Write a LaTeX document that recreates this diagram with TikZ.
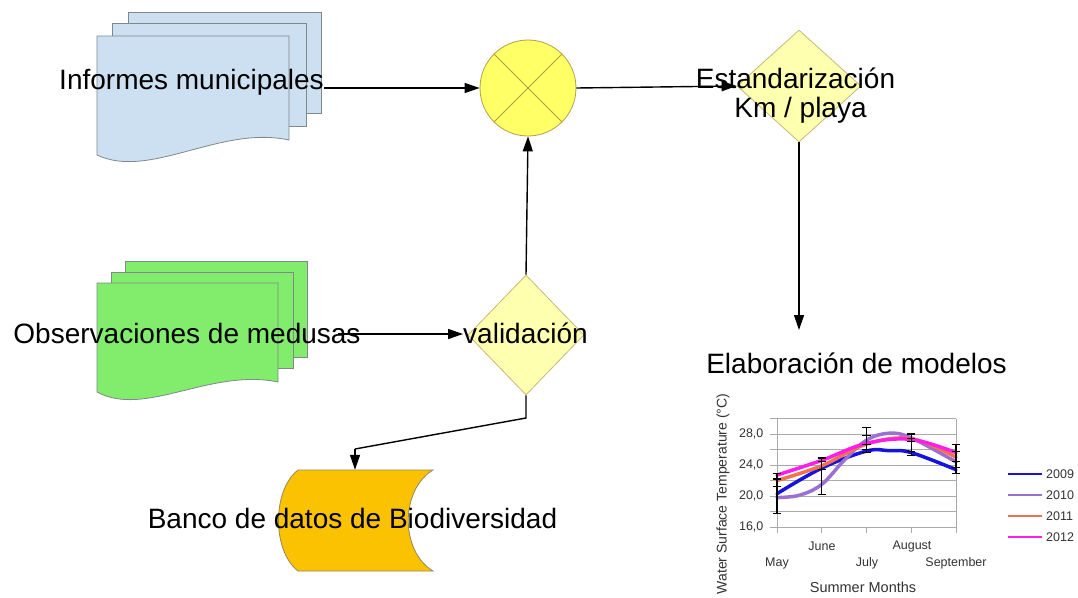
\documentclass[tikz,border=0pt]{standalone}
\usepackage{fontspec}
\setmainfont{Liberation Sans}
\usetikzlibrary{shapes.geometric,arrows.meta}
\definecolor{docblue}{RGB}{204,224,242}
\definecolor{docgreen}{RGB}{130,236,108}
\definecolor{docedge}{RGB}{128,136,140}
\definecolor{mixfill}{RGB}{255,255,102}
\definecolor{mixedge}{RGB}{176,160,72}
\definecolor{diafill}{RGB}{255,255,176}
\definecolor{diaedge}{RGB}{200,184,120}
\definecolor{bancofill}{RGB}{250,194,0}
\definecolor{bancoedge}{RGB}{150,136,90}
\definecolor{gridc}{RGB}{170,170,170}
\definecolor{charttext}{RGB}{50,50,50}
\definecolor{c2009}{RGB}{20,20,220}
\definecolor{c2010}{RGB}{155,112,210}
\definecolor{c2011}{RGB}{245,112,80}
\definecolor{c2012}{RGB}{255,30,230}
\tikzset{
  big/.style={font=\fontsize{28}{30}\selectfont, inner sep=0pt, text=black},
  sheet/.style={draw=docedge, line width=0.8pt},
  conn/.style={draw=black, line width=1.4pt, -{Triangle[length=15pt,width=10pt]}},
  plain/.style={draw=black, line width=1.4pt},
  gridline/.style={draw=gridc, line width=0.8pt},
  small/.style={font=\fontsize{12.5}{14}\selectfont, text=charttext, inner sep=0pt},
  curve/.style={line width=3.5pt, line cap=round},
  errbar/.style={draw=black, line width=1.1pt},
}
\begin{document}
\begin{tikzpicture}[x=1pt,y=-1pt]
\useasboundingbox (0,0) rectangle (1078,597);

% ---- Informes municipales (document stack)
\draw[sheet, fill=docblue] (128,12) rectangle (321,113);
\draw[sheet, fill=docblue] (112,23) rectangle (306,126);
\draw[sheet, fill=docblue] (97,36) -- (289,36) -- (289,140)
   .. controls (220,125) and (150,180) .. (97,155) -- cycle;
\node[big, anchor=base] (inf) at (191.5,89) {Informes municipales};

% ---- Observaciones de medusas (document stack)
\draw[sheet, fill=docgreen] (125,261) rectangle (307,357);
\draw[sheet, fill=docgreen] (111,272) rectangle (293,368);
\draw[sheet, fill=docgreen] (97,283) -- (278,283) -- (278,382)
   .. controls (210,368) and (145,418) .. (97,392) -- cycle;

% ---- circle (mix)
\node[circle, draw=mixedge, fill=mixfill, line width=0.8pt, minimum size=96pt, inner sep=0pt] (mix) at (528,88) {};
\draw[mixedge, line width=0.8pt] (mix.north west) -- (mix.south east);
\draw[mixedge, line width=0.8pt] (mix.north east) -- (mix.south west);

% ---- Estandarizacion diamond
\node[diamond, draw=diaedge, fill=diafill, line width=0.8pt, minimum width=124pt, minimum height=112pt, inner sep=0pt] (est) at (799,86) {};
\node[big, anchor=base] (esttxt1) at (795.5,88) {Estandarización};
\node[big, anchor=base] (esttxt2) at (800.5,117) {Km / playa};

% ---- validacion diamond
\node[diamond, draw=diaedge, fill=diafill, line width=0.8pt, minimum width=116pt, minimum height=120pt, inner sep=0pt] (val) at (526,335) {};
\node[big, anchor=base] (valtxt) at (525.5,343) {validación};

% ---- Banco de datos
\node[inner sep=0pt, minimum width=135pt, minimum height=101pt] (banco) at (365.5,520.5) {};
\draw[draw=bancoedge, fill=bancofill, line width=0.8pt]
  (298,470) -- (433,470) .. controls (400,490) and (400,551) .. (433,571)
  -- (298,571) .. controls (272,551) and (272,490) .. (298,470) -- cycle;
\node[big, anchor=base] (bancotxt) at (352.5,528) {Banco de datos de Biodiversidad};

\node[big, anchor=base] (obs) at (187,343) {Observaciones de medusas};

% ---- Elaboracion
\node[big, anchor=base] (elab) at (856.5,373) {Elaboración de modelos};
\coordinate (elabin) at (799,330);

% ---- connectors
\coordinate (obsout) at (338,334);
\coordinate (vbend) at (526,418);
\coordinate (bbend) at (355,449);
\draw[conn] (inf.east |- mix.west) -- (mix.west);
\draw[conn] (mix.east) -- (est.west);
\draw[conn] (est.south) -- (elabin);
\draw[conn] (obsout) -- (obsout -| valtxt.west);
\draw[conn] (val.north) -- (mix.south);
\draw[plain] (val.south) -- (vbend) -- (bbend);
\draw[conn] (bbend) -- (bbend |- banco.north);

% ---- chart
\begin{scope}[shift={(777pt,-527pt)}, x=44.75pt, y=7.75pt]
  \foreach \t in {0,2,...,14} \draw[gridline] (-0.15,\t) -- (4,\t);
  \draw[gridline] (0,0) -- (0,14);
  \draw[gridline] (4,0) -- (4,14);
  \foreach \i in {0,...,4} \draw[gridline] (\i,0) -- (\i,-0.8);
  \foreach \t/\l in {0/{16,0},4/{20,0},8/{24,0},12/{28,0}}
    \node[small, anchor=east] at (-0.3,\t) {\l};
  % curves
  \draw[curve, c2009] plot[smooth, tension=0.6] coordinates {(0,4.3) (1,7.6) (2,9.8) (2.5,9.85) (3,9.6) (4,7.4)};
  \draw[curve, c2010] plot[smooth, tension=0.6] coordinates {(0,3.8) (0.5,4.1) (1,5.5) (1.5,8.6) (2,11.2) (2.5,12.1) (3,11.5) (4,8.4)};
  \draw[curve, c2011] plot[smooth, tension=0.6] coordinates {(0,6.0) (1,7.9) (2,10.7) (3,11.4) (4,9.0)};
  \draw[curve, c2012] plot[smooth, tension=0.6] coordinates {(0,6.7) (1,8.6) (2,10.8) (3,11.3) (4,9.6)};
  % error bars
  \foreach \i/\lo/\hi in {0/1.8/6.9, 1/4.2/8.9, 2/9.6/12.8, 3/9.2/12.0, 4/6.9/10.6}
    \draw[errbar] (\i,\lo) -- (\i,\hi);
  \foreach \i/\v in {0/1.8, 0/5.2, 0/6.2, 0/6.9,
                     1/4.2, 1/7.4, 1/8.5, 1/8.9,
                     2/9.6, 2/10.0, 2/10.6, 2/11.8, 2/12.8,
                     3/9.2, 3/9.8, 3/11.0, 3/11.4, 3/12.0,
                     4/6.9, 4/7.7, 4/8.4, 4/9.7, 4/10.6}
    \draw[errbar] (\i-0.09,\v) -- (\i+0.09,\v);
\end{scope}
\node[small] (mjun) at (822,546) {June};
\node[small] (maug) at (912,546) {August};
\node[small] (mmay) at (777,563) {May};
\node[small] (mjul) at (867,563) {July};
\node[small] (msep) at (956,563) {September};
\node[small, font=\fontsize{14.5}{16}\selectfont] (xlab) at (863,587) {Summer Months};
\node[small, font=\fontsize{14}{16}\selectfont, rotate=90] (ylab) at (723,494) {Water Surface Temperature (°C)};
% legend
\foreach \c/\yy/\l in {c2009/474/2009, c2010/495/2010, c2011/516/2011, c2012/537/2012}{
  \draw[\c, line width=2.5pt] (1008,\yy) -- (1042,\yy);
  \node[small, anchor=west] at (1046,\yy) {\l};
}
\end{tikzpicture}
\end{document}
